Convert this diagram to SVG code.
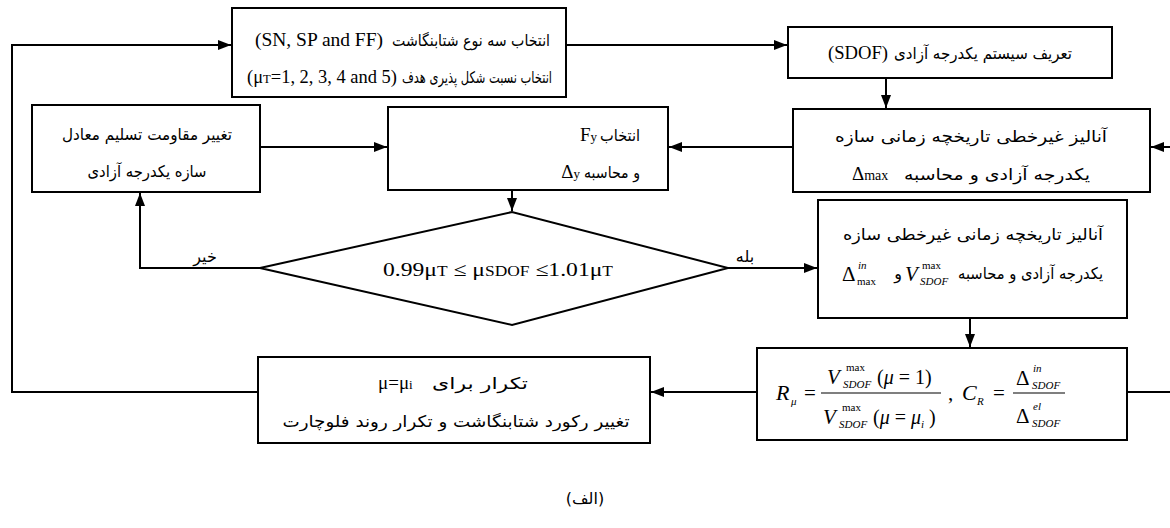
<svg xmlns="http://www.w3.org/2000/svg" width="1170" height="528" viewBox="0 0 1170 528">
<style>
.box{fill:#fff;stroke:#000;stroke-width:2}
.ln{fill:none;stroke:#000;stroke-width:2}
.fa{font-family:"DejaVu Sans",sans-serif;font-size:16px;fill:#000}
.lat{font-family:"Liberation Serif",serif;font-size:19px;fill:#000}
.it{font-family:"Liberation Serif",serif;font-style:italic;fill:#000}
.rm{font-family:"Liberation Serif",serif;fill:#000}
</style>
<defs>
<marker id="ah" viewBox="0 0 13 10" refX="13" refY="5" markerWidth="13" markerHeight="10" markerUnits="userSpaceOnUse" orient="auto">
<path d="M0,0 L13,5 L0,10 Z" fill="#000"/>
</marker>
</defs>
<g id="connectors">
<path class="ln" d="M258,392 H12 V45 H231" marker-end="url(#ah)"/>
<path class="ln" d="M566,45 H787" marker-end="url(#ah)"/>
<path class="ln" d="M886,78 V108" marker-end="url(#ah)"/>
<path class="ln" d="M1170,147 H1151" marker-end="url(#ah)"/>
<path class="ln" d="M793,147 H669" marker-end="url(#ah)"/>
<path class="ln" d="M260,147 H387" marker-end="url(#ah)"/>
<path class="ln" d="M512,190 V211" marker-end="url(#ah)"/>
<path class="ln" d="M260,268 H140 V193" marker-end="url(#ah)"/>
<path class="ln" d="M728,268 H817" marker-end="url(#ah)"/>
<path class="ln" d="M970,318 V347" marker-end="url(#ah)"/>
<path class="ln" d="M757,392 H651" marker-end="url(#ah)"/>
<path class="ln" d="M1127,392 H1170"/>
<text class="fa" x="205" y="262" font-size="13" text-anchor="middle">خیر</text>
<text class="fa" x="745" y="262" font-size="13" text-anchor="middle">بله</text>
</g>
<g id="select-records">
<rect class="box" x="232" y="8" width="334" height="89"/>
<text class="lat" x="255" y="46" textLength="128" lengthAdjust="spacingAndGlyphs">(SN, SP and FF)</text>
<text class="fa" x="550" y="46" text-anchor="end" textLength="158" lengthAdjust="spacingAndGlyphs">انتخاب سه نوع شتابنگاشت</text>
<text class="lat" x="247" y="83" textLength="150" lengthAdjust="spacingAndGlyphs">(μ<tspan font-size="13">T</tspan>=1, 2, 3, 4 and 5)</text>
<text class="fa" x="552" y="83" text-anchor="end" textLength="150" lengthAdjust="spacingAndGlyphs">انتخاب نسبت شکل پذیری هدف</text>
</g>
<g id="define-sdof">
<rect class="box" x="788" y="27" width="324" height="51"/>
<text class="lat" x="828" y="59" textLength="60" lengthAdjust="spacingAndGlyphs">(SDOF)</text>
<text class="fa" x="1072" y="59" text-anchor="end" textLength="178" lengthAdjust="spacingAndGlyphs">تعریف سیستم یکدرجه آزادی</text>
</g>
<g id="analysis-1">
<rect class="box" x="793" y="109" width="357" height="83"/>
<text class="fa" x="971" y="142" text-anchor="middle" textLength="272" lengthAdjust="spacingAndGlyphs">آنالیز غیرخطی تاریخچه زمانی سازه</text>
<text class="lat" x="852" y="180">Δ<tspan font-size="14">max</tspan></text>
<text class="fa" x="1090" y="180" text-anchor="end" textLength="186" lengthAdjust="spacingAndGlyphs">یکدرجه آزادی و محاسبه</text>
</g>
<g id="select-fy">
<rect class="box" x="388" y="107" width="280" height="83"/>
<text class="lat" x="597" y="141" text-anchor="end">F<tspan font-size="13">y</tspan></text>
<text class="fa" x="640" y="141" text-anchor="end" textLength="40" lengthAdjust="spacingAndGlyphs">انتخاب</text>
<text class="lat" x="580" y="178" text-anchor="end">Δ<tspan font-size="13">y</tspan></text>
<text class="fa" x="640" y="178" text-anchor="end" textLength="56" lengthAdjust="spacingAndGlyphs">و محاسبه</text>
</g>
<g id="change-strength">
<rect class="box" x="32" y="105" width="228" height="87"/>
<text class="fa" x="147" y="140" text-anchor="middle" textLength="170" lengthAdjust="spacingAndGlyphs">تغییر مقاومت تسلیم معادل</text>
<text class="fa" x="147" y="177" text-anchor="middle" textLength="119" lengthAdjust="spacingAndGlyphs">سازه یکدرجه آزادی</text>
</g>
<g id="check">
<polygon class="box" points="260,268 512,212 728,268 512,325"/>
<text class="lat" x="498" y="276" font-size="21" text-anchor="middle" textLength="230" lengthAdjust="spacingAndGlyphs">0.99μ<tspan font-size="14">T</tspan> ≤ μ<tspan font-size="14">SDOF</tspan> ≤1.01μ<tspan font-size="14">T</tspan></text>
</g>
<g id="analysis-2">
<rect class="box" x="818" y="200" width="309" height="118"/>
<text class="fa" x="973" y="240" text-anchor="middle" textLength="260" lengthAdjust="spacingAndGlyphs">آنالیز تاریخچه زمانی غیرخطی سازه</text>
<text class="fa" x="1103" y="279" text-anchor="end" textLength="145" lengthAdjust="spacingAndGlyphs">یکدرجه آزادی و محاسبه</text>
<text class="fa" x="898" y="279" text-anchor="middle">و</text>
<text class="it" x="905" y="281" font-size="21">V</text>
<text class="rm" x="922" y="269" font-size="11">max</text>
<text class="it" x="920" y="285" font-size="11">SDOF</text>
<text class="rm" x="842" y="281" font-size="21">Δ</text>
<text class="it" x="858" y="269" font-size="11">in</text>
<text class="rm" x="857" y="285" font-size="11">max</text>
</g>
<g id="ratios">
<rect class="box" x="757" y="348" width="370" height="92"/>
<text class="it" x="776" y="400" font-size="22">R</text>
<text class="it" x="791" y="405" font-size="11">μ</text>
<text class="rm" x="804" y="400" font-size="21">=</text>
<line x1="821" y1="393" x2="941" y2="393" stroke="#000" stroke-width="1.2"/>
<text class="it" x="827" y="384" font-size="21">V</text>
<text class="rm" x="846" y="371" font-size="11">max</text>
<text class="it" x="843" y="388" font-size="11">SDOF</text>
<text class="rm" x="877" y="384" font-size="20">(<tspan class="it">μ</tspan> = 1)</text>
<text class="it" x="823" y="424" font-size="21">V</text>
<text class="rm" x="842" y="411" font-size="11">max</text>
<text class="it" x="839" y="428" font-size="11">SDOF</text>
<text class="rm" x="873" y="424" font-size="20">(<tspan class="it">μ</tspan> = <tspan class="it">μ</tspan><tspan class="it" font-size="11" dy="4">i</tspan><tspan dy="-4"> )</tspan></text>
<text class="rm" x="948" y="400" font-size="21">,</text>
<text class="it" x="962" y="400" font-size="22">C</text>
<text class="it" x="977" y="405" font-size="11">R</text>
<text class="rm" x="993" y="400" font-size="21">=</text>
<line x1="1013" y1="393" x2="1065" y2="393" stroke="#000" stroke-width="1.2"/>
<text class="rm" x="1016" y="385" font-size="21">Δ</text>
<text class="it" x="1033" y="372" font-size="11">in</text>
<text class="it" x="1032" y="389" font-size="11">SDOF</text>
<text class="rm" x="1016" y="423" font-size="21">Δ</text>
<text class="it" x="1033" y="410" font-size="11">el</text>
<text class="it" x="1032" y="427" font-size="11">SDOF</text>
</g>
<g id="repeat">
<rect class="box" x="258" y="357" width="392" height="86"/>
<text class="lat" x="378" y="389">μ=μ<tspan font-size="13">i</tspan></text>
<text class="fa" x="528" y="389" font-size="18" text-anchor="end" textLength="96" lengthAdjust="spacingAndGlyphs">تکرار برای</text>
<text class="fa" x="456" y="427" text-anchor="middle" textLength="347" lengthAdjust="spacingAndGlyphs">تغییر رکورد شتابنگاشت و تکرار روند فلوچارت</text>
</g>
<text class="fa" x="585" y="504" font-size="17" text-anchor="middle">(الف)</text>
</svg>
